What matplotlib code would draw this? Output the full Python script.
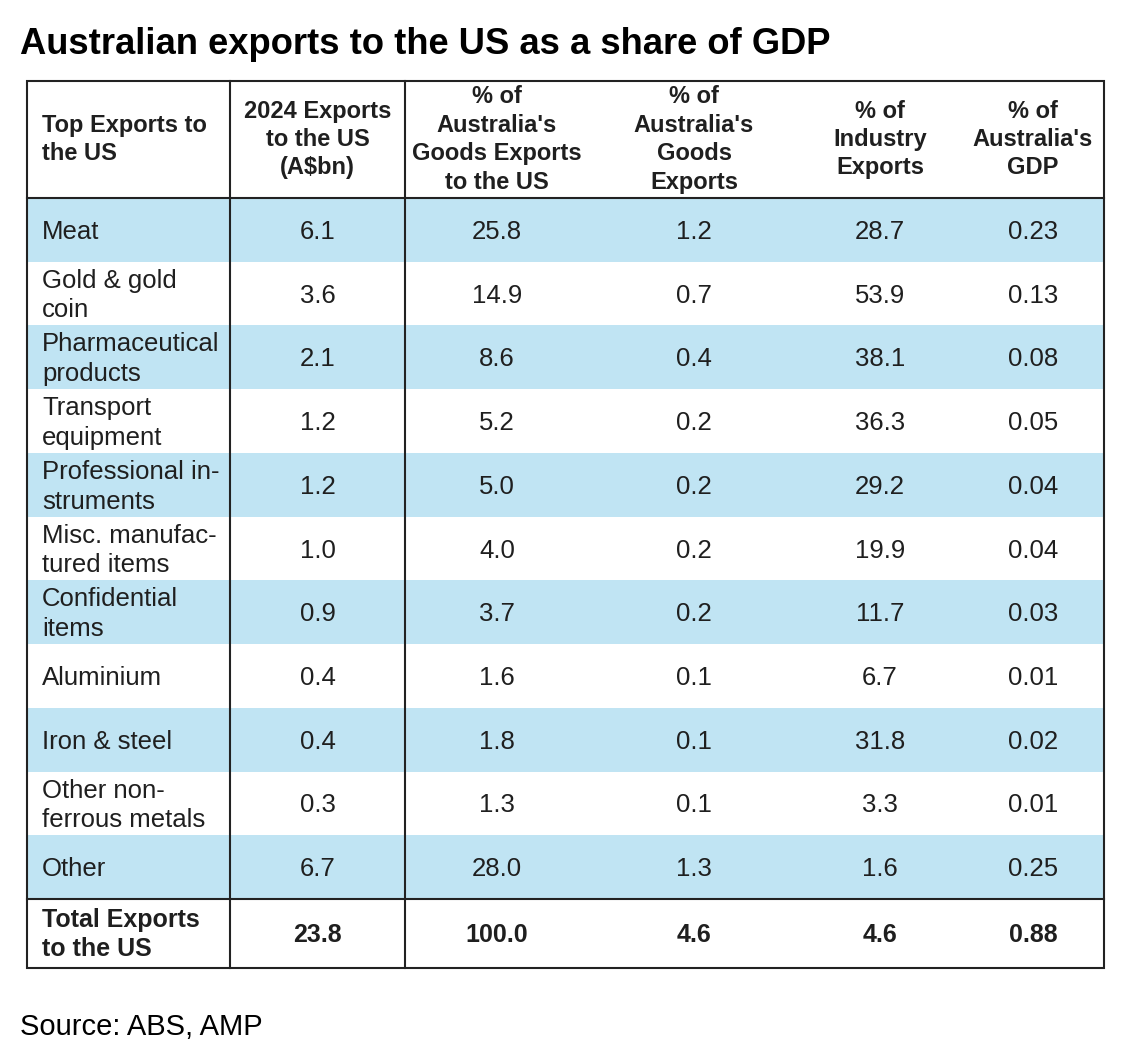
import matplotlib
matplotlib.use("Agg")
import matplotlib.pyplot as plt
from matplotlib.patches import Rectangle

# --- data -------------------------------------------------------------
headers = [
    "Top Exports to\nthe US",
    "2024 Exports\nto the US\n(A$bn)",
    "% of\nAustralia's\nGoods Exports\nto the US",
    "% of\nAustralia's\nGoods\nExports",
    "% of\nIndustry\nExports",
    "% of\nAustralia's\nGDP",
]
categories = [
    "Meat",
    "Gold & gold\ncoin",
    "Pharmaceutical\nproducts",
    "Transport\nequipment",
    "Professional in-\nstruments",
    "Misc. manufac-\ntured items",
    "Confidential\nitems",
    "Aluminium",
    "Iron & steel",
    "Other non-\nferrous metals",
    "Other",
]
exports_bn = ["6.1", "3.6", "2.1", "1.2", "1.2", "1.0", "0.9", "0.4", "0.4", "0.3", "6.7"]
pct_goods_to_us = ["25.8", "14.9", "8.6", "5.2", "5.0", "4.0", "3.7", "1.6", "1.8", "1.3", "28.0"]
pct_goods = ["1.2", "0.7", "0.4", "0.2", "0.2", "0.2", "0.2", "0.1", "0.1", "0.1", "1.3"]
pct_industry = ["28.7", "53.9", "38.1", "36.3", "29.2", "19.9", "11.7", "6.7", "31.8", "3.3", "1.6"]
pct_gdp = ["0.23", "0.13", "0.08", "0.05", "0.04", "0.04", "0.03", "0.01", "0.02", "0.01", "0.25"]
total_row = ["Total Exports\nto the US", "23.8", "100.0", "4.6", "4.6", "0.88"]

title = "Australian exports to the US as a share of GDP"
source = "Source: ABS, AMP"

# --- layout (pixel units of a 1131x1062 canvas) ------------------------
W, H = 1131, 1062
tbl_left, tbl_right = 27, 1104
tbl_top, head_bottom, total_top, tbl_bottom = 81, 198, 899, 968
col_lines = [230, 405]
col_centers = [None, 317.5, 497, 694, 880, 1033]
text_pad = 15
blue = "#C0E4F3"
line_color = "#222222"
text_color = "#1f1f1f"

plt.rcParams['font.family'] = ['Liberation Sans', 'DejaVu Sans']

fig = plt.figure(figsize=(W / 100, H / 100), dpi=100)
ax = fig.add_axes([0, 0, 1, 1])
ax.set_xlim(0, W)
ax.set_ylim(H, 0)
ax.axis("off")

# title
ax.text(20, 44, title, fontsize=26.2, fontweight="bold", color="black",
        ha="left", va="center")

# body rows
columns = [categories, exports_bn, pct_goods_to_us, pct_goods, pct_industry, pct_gdp]
n = len(categories)
row_h = (total_top - head_bottom) / n
for i in range(n):
    y0 = head_bottom + i * row_h
    if i % 2 == 0:
        ax.add_patch(Rectangle((tbl_left, y0), tbl_right - tbl_left, row_h,
                               facecolor=blue, edgecolor="none", zorder=1))
    yc = y0 + row_h / 2 + 2
    for j, col in enumerate(columns):
        if j == 0:
            ax.text(tbl_left + text_pad, yc, col[i], fontsize=18.5, color=text_color,
                    ha="left", va="center", linespacing=1.3, zorder=3)
        else:
            ax.text(col_centers[j], yc, col[i], fontsize=18.5, color=text_color,
                    ha="center", va="center", zorder=3)

# header
yh = (tbl_top + head_bottom) / 2
for j, h in enumerate(headers):
    if j == 0:
        ax.text(tbl_left + text_pad, yh, h, fontsize=17, fontweight="bold",
                color=text_color, ha="left", va="center", linespacing=1.3, zorder=3)
    else:
        ax.text(col_centers[j], yh, h, fontsize=17, fontweight="bold",
                color=text_color, ha="center", va="center", linespacing=1.3,
                multialignment="center", zorder=3)

# total row
yt = (total_top + tbl_bottom) / 2 + 1
for j, v in enumerate(total_row):
    if j == 0:
        ax.text(tbl_left + text_pad, yt, v, fontsize=18, fontweight="bold",
                color=text_color, ha="left", va="center", linespacing=1.3, zorder=3)
    else:
        ax.text(col_centers[j], yt, v, fontsize=18, fontweight="bold",
                color=text_color, ha="center", va="center", zorder=3)

# grid lines
ax.add_patch(Rectangle((tbl_left, tbl_top), tbl_right - tbl_left, tbl_bottom - tbl_top,
                       facecolor="none", edgecolor=line_color, lw=1.5, zorder=4))
for yl in [head_bottom, total_top]:
    ax.plot([tbl_left, tbl_right], [yl, yl], color=line_color, lw=1.5, zorder=4)
for xl in col_lines:
    ax.plot([xl, xl], [tbl_top, tbl_bottom], color=line_color, lw=1.5, zorder=4)

# source
ax.text(20, 1027, source, fontsize=21, color="black", ha="left", va="center")

fig.savefig("out.png", dpi=100, facecolor="white")
